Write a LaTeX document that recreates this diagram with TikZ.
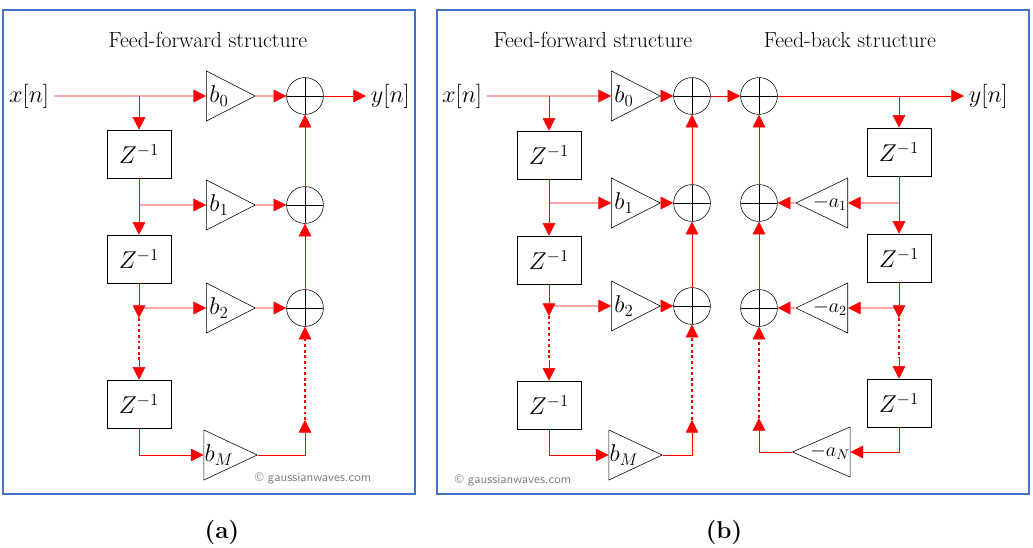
\documentclass[tikz,border=0pt]{standalone}
\usepackage{tikz}
\usetikzlibrary{arrows.meta,shapes.geometric}
\definecolor{frameblue}{RGB}{68, 114, 196}
\definecolor{sigred}{RGB}{255, 0, 0}
\tikzset{
  delay/.style={draw=black, fill=white, minimum width=1.6cm, minimum height=1.2cm, font=\LARGE},
  gain/.style={draw=black, isosceles triangle, isosceles triangle stretches, inner sep=0pt,
    minimum width=1.25cm, minimum height=1.22cm, font=\LARGE},
  adder/.style={draw=black, circle, minimum size=0.92cm, inner sep=0pt,
    path picture={\draw (path picture bounding box.north) -- (path picture bounding box.south)
      (path picture bounding box.west) -- (path picture bounding box.east);}},
  sig/.style={draw=sigred, -{Triangle[length=9pt,width=9pt]}},
  dots/.style={draw=sigred, line width=2pt, dotted},
  panel/.style={draw=frameblue, line width=1.5pt},
  title/.style={font=\fontsize{15.5}{18}\selectfont},
  stamp/.style={gray, font=\sffamily\small},
}
\begin{document}
\begin{tikzpicture}[x=0.025cm, y=-0.025cm]
  \useasboundingbox (0,0) rectangle (1033,547);
  % frames
  \draw[panel] (3,10) rectangle (415,494);
  \draw[panel] (437,10) rectangle (1029,494);
  \node[title] (ta) at (208,40) {Feed-forward structure};
  \node[title] (tb1) at (593,40) {Feed-forward structure};
  \node[title] (tb2) at (850,40) {Feed-back structure};
  \node[stamp] (ca) at (313,478) {\textcopyright\ gaussianwaves.com};
  \node[stamp] (cb) at (513,480) {\textcopyright\ gaussianwaves.com};
  \node[font=\LARGE\bfseries] (la) at (222,532) {(a)};
  \node[font=\LARGE\bfseries] (lb) at (724,532) {(b)};

  % (a) feed-forward
  \node[anchor=east, font=\LARGE] (xa) at (54,96) {$x[n]$};
  \node[anchor=west, font=\LARGE] (ya) at (366,96) {$y[n]$};
  \node[delay] (da1) at (139,154) {$Z^{-1}$};
  \node[delay] (da2) at (139,259) {$Z^{-1}$};
  \node[delay] (da3) at (139,404) {$Z^{-1}$};
  \node[gain] (ba0) at (219,96) {$b_0$};
  \node[gain] (ba1) at (219,205) {$b_1$};
  \node[gain] (ba2) at (219,308) {$b_2$};
  \node[gain] (baM) at (219,455) {$b_M$};
  \node[adder] (sa0) at (305,96) {};
  \node[adder] (sa1) at (305,205) {};
  \node[adder] (sa2) at (305,308) {};
  \coordinate (pa0) at (139,96);
  \coordinate (pa1) at (139,205);
  \coordinate (pa2) at (139,308);
  \coordinate (qa1) at (139,318);
  \coordinate (qa2) at (139,360);
  \coordinate (qa3) at (305,420);
  \coordinate (qa4) at (305,337);
  \draw[sig] (xa.east) -- (ba0.west);
  \draw[sig] (pa0) -- (da1.north);
  \draw[sig] (da1.south) -- (da2.north);
  \draw[sig] (pa1) -- (ba1.west);
  \draw[sig] (da2.south) -- (qa1);
  \draw[sig] (pa2) -- (ba2.west);
  \draw[dots] (qa1) -- (qa2);
  \draw[sig] (qa2) -- (da3.north);
  \draw[sig] (da3.south) |- (baM.west);
  \draw[sig] (baM.east) -| (qa3);
  \draw[dots] (qa3) -- (qa4);
  \draw[sig] (qa4) -- (sa2.south);
  \draw[sig] (ba0.east) -- (sa0.west);
  \draw[sig] (ba1.east) -- (sa1.west);
  \draw[sig] (ba2.east) -- (sa2.west);
  \draw[sig] (sa2.north) -- (sa1.south);
  \draw[sig] (sa1.north) -- (sa0.south);
  \draw[sig] (sa0.east) -- (ya.west);

  % (b) feed-forward part
  \node[anchor=east, font=\LARGE] (xb) at (487,96) {$x[n]$};
  \node[delay] (db1) at (549,155) {$Z^{-1}$};
  \node[delay] (db2) at (549,260) {$Z^{-1}$};
  \node[delay] (db3) at (549,405) {$Z^{-1}$};
  \node[gain] (bb0) at (624,96) {$b_0$};
  \node[gain] (bb1) at (624,203) {$b_1$};
  \node[gain] (bb2) at (624,306) {$b_2$};
  \node[gain] (bbM) at (624,455) {$b_M$};
  \node[adder] (sb0) at (692,96) {};
  \node[adder] (sb1) at (692,203) {};
  \node[adder] (sb2) at (692,306) {};
  \coordinate (pb0) at (549,96);
  \coordinate (pb1) at (549,203);
  \coordinate (pb2) at (549,306);
  \coordinate (qb1) at (549,316);
  \coordinate (qb2) at (549,360);
  \coordinate (qb3) at (692,420);
  \coordinate (qb4) at (692,335);
  \draw[sig] (xb.east) -- (bb0.west);
  \draw[sig] (pb0) -- (db1.north);
  \draw[sig] (db1.south) -- (db2.north);
  \draw[sig] (pb1) -- (bb1.west);
  \draw[sig] (db2.south) -- (qb1);
  \draw[sig] (pb2) -- (bb2.west);
  \draw[dots] (qb1) -- (qb2);
  \draw[sig] (qb2) -- (db3.north);
  \draw[sig] (db3.south) |- (bbM.west);
  \draw[sig] (bbM.east) -| (qb3);
  \draw[dots] (qb3) -- (qb4);
  \draw[sig] (qb4) -- (sb2.south);
  \draw[sig] (bb0.east) -- (sb0.west);
  \draw[sig] (bb1.east) -- (sb1.west);
  \draw[sig] (bb2.east) -- (sb2.west);
  \draw[sig] (sb2.north) -- (sb1.south);
  \draw[sig] (sb1.north) -- (sb0.south);

  % (b) feed-back part
  \node[anchor=west, font=\LARGE] (yb) at (964,96) {$y[n]$};
  \node[delay] (dc1) at (899,152) {$Z^{-1}$};
  \node[delay] (dc2) at (899,258) {$Z^{-1}$};
  \node[delay] (dc3) at (899,403) {$Z^{-1}$};
  \node[gain, shape border rotate=180, font=\Large] (ac1) at (830,203) {$-a_1$};
  \node[gain, shape border rotate=180, font=\Large] (ac2) at (830,308) {$-a_2$};
  \node[gain, shape border rotate=180, font=\Large] (acN) at (830,452) {$-a_N$};
  \node[adder] (sc0) at (759,96) {};
  \node[adder] (sc1) at (759,203) {};
  \node[adder] (sc2) at (759,308) {};
  \coordinate (pc0) at (899,96);
  \coordinate (pc1) at (899,203);
  \coordinate (pc2) at (899,308);
  \coordinate (qc1) at (899,318);
  \coordinate (qc2) at (899,358);
  \coordinate (qc3) at (759,418);
  \coordinate (qc4) at (759,335);
  \draw[sig] (sb0.east) -- (sc0.west);
  \draw[sig] (sc0.east) -- (yb.west);
  \draw[sig] (pc0) -- (dc1.north);
  \draw[sig] (dc1.south) -- (dc2.north);
  \draw[sig] (pc1) -- (ac1.east);
  \draw[sig] (dc2.south) -- (qc1);
  \draw[sig] (pc2) -- (ac2.east);
  \draw[dots] (qc1) -- (qc2);
  \draw[sig] (qc2) -- (dc3.north);
  \draw[sig] (dc3.south) |- (acN.east);
  \draw[sig] (acN.west) -| (qc3);
  \draw[dots] (qc3) -- (qc4);
  \draw[sig] (qc4) -- (sc2.south);
  \draw[sig] (ac1.west) -- (sc1.east);
  \draw[sig] (ac2.west) -- (sc2.east);
  \draw[sig] (sc2.north) -- (sc1.south);
  \draw[sig] (sc1.north) -- (sc0.south);
\end{tikzpicture}
\end{document}
